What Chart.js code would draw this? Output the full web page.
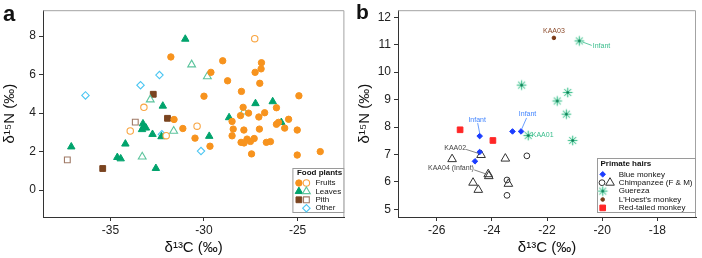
<!DOCTYPE html>
<html>
<head>
<meta charset="utf-8">
<script src="https://cdn.jsdelivr.net/npm/chart.js@4.4.0/dist/chart.umd.min.js"></script>
<style>
    html, body { margin: 0; padding: 0; background: #fff; }
    #wrap { position: relative; width: 702px; height: 258px; }
    canvas { position: absolute; top: 0; }
    #chartA { left: 0; }
    #chartB { left: 350px; }
</style>
</head>
<body>
<div id="wrap">
    <canvas id="chartA" width="350" height="258"></canvas>
    <canvas id="chartB" width="352" height="258"></canvas>
</div>
<script>
// Panel a: food plants, [d13C, d15N]
const fruitsFilled = [
    [-31.77, 6.92], [-29.0, 6.72], [-26.93, 6.62], [-26.95, 6.30], [-27.27, 6.12], [-29.63, 6.12],
    [-28.74, 5.68], [-27.02, 5.55], [-28.0, 5.13], [-30.0, 4.88], [-24.93, 4.90], [-27.91, 4.30],
    [-26.13, 4.28], [-26.76, 4.02], [-27.62, 4.00], [-28.05, 3.87], [-28.50, 3.57], [-27.07, 3.80],
    [-25.48, 3.68], [-26.13, 3.42], [-26.02, 3.52], [-31.60, 3.67], [-31.13, 3.20], [-28.44, 3.17],
    [-27.87, 3.12], [-27.04, 3.17], [-25.69, 3.22], [-25.02, 3.12], [-30.48, 2.70], [-29.68, 2.28],
    [-28.50, 2.82], [-27.70, 2.65], [-27.52, 2.53], [-27.32, 2.68], [-28.02, 2.48], [-27.86, 2.45],
    [-26.67, 2.48], [-26.45, 2.52], [-27.46, 1.88], [-25.02, 1.82], [-23.79, 2.00]
];
const fruitsOpen = [[-27.29, 7.87], [-33.21, 4.30], [-30.37, 3.32], [-33.94, 3.07], [-32.02, 2.83]];
const leavesFilled = [
    [-31.0, 7.85], [-32.2, 4.37], [-33.26, 3.45], [-33.23, 3.28], [-33.31, 3.15], [-33.1, 3.23],
    [-32.75, 2.90], [-32.27, 2.78], [-29.72, 2.80], [-34.2, 2.40], [-34.63, 1.70], [-34.45, 1.63],
    [-32.57, 1.13], [-37.09, 2.25], [-27.25, 4.50], [-26.33, 4.60], [-28.66, 3.77], [-25.87, 3.52]
];
const leavesOpen = [[-30.66, 6.52], [-29.82, 5.90], [-32.87, 4.70], [-31.62, 3.07], [-33.3, 1.73], [-27.87, 4.07]];
const pithFilled = [[-32.71, 4.98], [-31.95, 3.73], [-35.41, 1.12]];
const pithOpen = [[-33.67, 3.53], [-37.3, 1.57]];
const otherOpen = [[-36.33, 4.92], [-33.39, 5.45], [-32.38, 5.98], [-32.25, 2.90], [-30.16, 2.03]];
const aTicksX = [-35, -30, -25];
const aTicksY = [0, 2, 4, 6, 8];

// Panel b: primate hairs, [d13C, d15N]
const blueMonkey = [[-23.25, 7.84], [-22.94, 7.84], [-24.44, 7.67], [-24.44, 7.09], [-24.61, 6.75]];
const chimpCircles = [[-22.73, 6.95], [-23.45, 6.07], [-23.45, 5.51]];
const chimpTriangles = [
    [-24.39, 6.98], [-25.44, 6.83], [-23.51, 6.85], [-24.13, 6.28],
    [-24.11, 6.21], [-24.68, 5.97], [-24.49, 5.71], [-23.40, 5.93]
];
const guereza = [[-22.92, 9.53], [-20.83, 11.14], [-21.25, 9.26], [-21.63, 8.95], [-21.30, 8.47], [-22.68, 7.69], [-21.07, 7.51]];
const lhoest = [[-21.75, 11.25]];
const redTailed = [[-25.15, 7.90], [-23.96, 7.51]];
const bTicksX = [-26, -24, -22, -20, -18];
const bTicksY = [5, 6, 7, 8, 9, 10, 11, 12];

const FONT = 'Liberation Sans, Arial, Helvetica, sans-serif';
Chart.defaults.font.family = FONT;

// Guereza asterisk marker
function makeAsterisk(r) {
    const c = document.createElement('canvas');
    const s = Math.ceil(r * 2 + 4);
    c.width = s; c.height = s;
    const g = c.getContext('2d');
    const m = s / 2;
    const spokes = (color, w) => {
        g.strokeStyle = color; g.lineWidth = w; g.lineCap = 'round'; g.beginPath();
        for (let i = 0; i < 4; i++) {
            const a = i * Math.PI / 4;
            g.moveTo(m - Math.cos(a) * r, m - Math.sin(a) * r);
            g.lineTo(m + Math.cos(a) * r, m + Math.sin(a) * r);
        }
        g.stroke();
    };
    spokes('#d2f2e4', 2);
    spokes('#3cbf8d', 0.9);
    g.fillStyle = '#0b7a50';
    g.beginPath(); g.arc(m, m, 1.3, 0, Math.PI * 2); g.fill();
    return c;
}
const asterisk = makeAsterisk(4.3);

// Marker styles
const st = {
    fruitsFilled: { pointStyle: 'circle', radius: 3.2, bg: '#f7931e', border: '#f7931e', bw: 1 },
    fruitsOpen: { pointStyle: 'circle', radius: 3.2, bg: '#fff', border: '#f9a541', bw: 1.1 },
    leavesFilled: { pointStyle: 'triangle', radius: 4.3, bg: '#00a36c', border: '#00a36c', bw: 1 },
    leavesOpen: { pointStyle: 'triangle', radius: 4.5, bg: '#fff', border: '#5cc49d', bw: 1.1 },
    pithFilled: { pointStyle: 'rect', radius: 4.1, bg: '#7a4420', border: '#7a4420', bw: 1 },
    pithOpen: { pointStyle: 'rect', radius: 4.1, bg: '#fff', border: '#a07a66', bw: 1.1 },
    other: { pointStyle: 'rectRot', radius: 3.7, bg: '#fff', border: '#4cc6f2', bw: 1.1 },
    blue: { pointStyle: 'rectRot', radius: 2.8, bg: '#1b3cff', border: '#1b3cff', bw: 1 },
    chimpC: { pointStyle: 'circle', radius: 2.9, bg: 'rgba(255,255,255,0)', border: '#333', bw: 1 },
    chimpT: { pointStyle: 'triangle', radius: 5, bg: 'rgba(255,255,255,0)', border: '#333', bw: 1 },
    guereza: { pointStyle: asterisk, radius: 4.5, bg: '#2fb482', border: '#2fb482', bw: 0 },
    lhoest: { pointStyle: 'circle', radius: 1.8, bg: '#7a3a17', border: '#7a3a17', bw: 1 },
    red: { pointStyle: 'rect', radius: 4, bg: '#ff2626', border: '#ff2626', bw: 1 }
};

function dataset(points, s) {
    return {
        data: points.map(([x, y]) => ({ x, y })),
        pointStyle: s.pointStyle,
        pointRadius: s.radius,
        pointBackgroundColor: s.bg,
        pointBorderColor: s.border,
        pointBorderWidth: s.bw
    };
}

function drawMarker(ctx, s, x, y) {
    if (s.pointStyle instanceof HTMLCanvasElement) {
        ctx.drawImage(s.pointStyle, x - s.pointStyle.width / 2, y - s.pointStyle.height / 2);
        return;
    }
    ctx.save();
    ctx.fillStyle = s.bg;
    ctx.strokeStyle = s.border;
    ctx.lineWidth = s.bw;
    Chart.helpers.drawPoint(ctx, { pointStyle: s.pointStyle, radius: s.radius, rotation: 0, borderWidth: s.bw }, x, y);
    ctx.restore();
}

function makeScales(cfg) {
    const axisColor = '#333';
    const tickFont = { family: FONT, size: 12 };
    const titleFont = { family: FONT, size: 15 };
    return {
        x: {
            type: 'linear', min: cfg.xMin, max: cfg.xMax,
            afterBuildTicks: s => { s.ticks = cfg.xTicks.map(v => ({ value: v })); },
            afterFit: s => { s.height = 41; },
            grid: { display: true, drawOnChartArea: false, drawTicks: true, tickLength: 4, color: axisColor },
            border: { display: true, color: axisColor, width: 1 },
            ticks: { color: '#222', font: tickFont, padding: 2, maxRotation: 0, autoSkip: false },
            title: { display: true, text: 'δ¹³C (‰)', color: '#111', font: titleFont, padding: { top: 0, bottom: 1 } }
        },
        y: {
            type: 'linear', min: cfg.yMin, max: cfg.yMax,
            afterBuildTicks: s => { s.ticks = cfg.yTicks.map(v => ({ value: v })); },
            afterFit: s => { s.width = cfg.yWidth; },
            grid: { display: true, drawOnChartArea: false, drawTicks: true, tickLength: 4, color: axisColor },
            border: { display: true, color: axisColor, width: 1 },
            ticks: { color: '#222', font: tickFont, padding: 3, autoSkip: false },
            title: { display: true, text: 'δ¹⁵N (‰)', color: '#111', font: titleFont, padding: { top: cfg.yTitlePad, bottom: 0 } }
        }
    };
}

// Gray top/right frame and the panel letter
const framePlugin = {
    id: 'frame',
    beforeDatasetsDraw(chart, args, opts) {
        const { ctx, chartArea: a } = chart;
        ctx.save();
        ctx.strokeStyle = '#a3a3a3';
        ctx.lineWidth = 1;
        ctx.beginPath();
        ctx.moveTo(a.left, a.top + 0.5);
        ctx.lineTo(a.right - 0.5, a.top + 0.5);
        ctx.lineTo(a.right - 0.5, a.bottom);
        ctx.stroke();
        ctx.fillStyle = '#111';
        ctx.font = 'bold ' + opts.size + 'px ' + FONT;
        ctx.textBaseline = 'alphabetic';
        ctx.fillText(opts.letter, opts.lx, opts.ly);
        ctx.restore();
    }
};

// Custom legend box (two markers per row in places)
const boxLegend = {
    id: 'boxLegend',
    afterDatasetsDraw(chart, args, opts) {
        const { ctx, chartArea: a } = chart;
        const x0 = a.right - opts.w, y0 = a.bottom - opts.bottomGap - opts.h;
        ctx.save();
        ctx.fillStyle = '#fff';
        ctx.fillRect(x0, y0, opts.w, opts.h);
        ctx.strokeStyle = '#9a9a9a';
        ctx.lineWidth = 1;
        ctx.strokeRect(x0 + 0.5, y0 + 0.5, opts.w - 1, opts.h - 1);
        ctx.fillStyle = '#111';
        ctx.textBaseline = 'middle';
        ctx.font = 'bold 8px ' + FONT;
        ctx.fillText(opts.title, x0 + opts.titleX, y0 + opts.titleY);
        ctx.font = '8px ' + FONT;
        opts.rows.forEach((row, i) => {
            const y = y0 + opts.rowY + i * opts.rowStep;
            row.marks.forEach(m => drawMarker(ctx, m.s, x0 + m.x, y));
            ctx.fillStyle = '#111';
            ctx.fillText(row.label, x0 + opts.textX, y);
        });
        ctx.restore();
    }
};

// Point labels with leader lines (panel b)
const pointNotes = {
    id: 'pointNotes',
    afterDatasetsDraw(chart, args, opts) {
        if (!opts.notes) return;
        const ctx = chart.ctx;
        ctx.save();
        ctx.font = '7px ' + FONT;
        ctx.textBaseline = 'middle';
        opts.notes.forEach(n => {
            const p = chart.getDatasetMeta(n.set).data[n.idx];
            if (n.line) {
                ctx.strokeStyle = n.lineColor || n.color;
                ctx.lineWidth = 0.8;
                ctx.beginPath();
                ctx.moveTo(p.x + n.line[0], p.y + n.line[1]);
                ctx.lineTo(p.x + n.line[2], p.y + n.line[3]);
                ctx.stroke();
            }
            ctx.fillStyle = n.color;
            ctx.textAlign = n.align;
            ctx.fillText(n.text, p.x + n.dx, p.y + n.dy);
        });
        ctx.restore();
    }
};

const common = {
    responsive: false,
    animation: false,
    events: [],
    showLine: false
};

new Chart(document.getElementById('chartA'), {
    type: 'scatter',
    data: {
        datasets: [
            dataset(fruitsFilled, st.fruitsFilled),
            dataset(fruitsOpen, st.fruitsOpen),
            dataset(leavesFilled, st.leavesFilled),
            dataset(leavesOpen, st.leavesOpen),
            dataset(pithFilled, st.pithFilled),
            dataset(pithOpen, st.pithOpen),
            dataset(otherOpen, st.other)
        ]
    },
    options: {
        ...common,
        layout: { padding: { top: 2, right: 5, left: 0, bottom: 0 } },
        scales: makeScales({ xMin: -38.6, xMax: -22.5, yMin: -1.4, yMax: 9.35, xTicks: aTicksX, yTicks: aTicksY, yWidth: 43, yTitlePad: 1 }),
        plugins: {
            legend: { display: false },
            tooltip: { enabled: false },
            frame: { letter: 'a', lx: 3, ly: 21, size: 22 },
            boxLegend: {
                w: 52, h: 45, bottomGap: 4, title: 'Food plants', titleX: 4.5, titleY: 5,
                rowY: 15, rowStep: 8.4, textX: 23,
                rows: [
                    { label: 'Fruits', marks: [{ s: st.fruitsFilled, x: 6.5 }, { s: st.fruitsOpen, x: 14 }] },
                    { label: 'Leaves', marks: [{ s: st.leavesFilled, x: 6.5 }, { s: st.leavesOpen, x: 14 }] },
                    { label: 'Pith', marks: [{ s: st.pithFilled, x: 6.5 }, { s: st.pithOpen, x: 14 }] },
                    { label: 'Other', marks: [{ s: st.other, x: 14 }] }
                ]
            }
        }
    },
    plugins: [framePlugin, boxLegend]
});

new Chart(document.getElementById('chartB'), {
    type: 'scatter',
    data: {
        datasets: [
            dataset(blueMonkey, st.blue),
            dataset(chimpCircles, st.chimpC),
            dataset(chimpTriangles, st.chimpT),
            dataset(guereza, st.guereza),
            dataset(lhoest, st.lhoest),
            dataset(redTailed, st.red)
        ]
    },
    options: {
        ...common,
        layout: { padding: { top: 2, right: 2, left: 0, bottom: 0 } },
        scales: makeScales({ xMin: -27.4, xMax: -16.6, yMin: 4.72, yMax: 12.26, xTicks: bTicksX, yTicks: bTicksY, yWidth: 48, yTitlePad: 6 }),
        plugins: {
            legend: { display: false },
            tooltip: { enabled: false },
            frame: { letter: 'b', lx: 6, ly: 19, size: 21 },
            boxLegend: {
                w: 99, h: 55, bottomGap: 4, title: 'Primate hairs', titleX: 3.5, titleY: 6,
                rowY: 16.3, rowStep: 8.4, textX: 21.7,
                rows: [
                    { label: 'Blue monkey', marks: [{ s: st.blue, x: 5.7 }] },
                    { label: 'Chimpanzee (F & M)', marks: [{ s: st.chimpC, x: 5 }, { s: st.chimpT, x: 13 }] },
                    { label: 'Guereza', marks: [{ s: st.guereza, x: 5.7 }] },
                    { label: "L'Hoest's monkey", marks: [{ s: st.lhoest, x: 5.7 }] },
                    { label: 'Red-tailed monkey', marks: [{ s: st.red, x: 5.7 }] }
                ]
            },
            pointNotes: {
                notes: [
                    { set: 0, idx: 2, text: 'Infant', color: '#4285ff', align: 'center', dx: -2.5, dy: -16.5, line: [-2, -13, 0, -3] },
                    { set: 0, idx: 1, text: 'Infant', color: '#4285ff', align: 'center', dx: 6.5, dy: -17, line: [5.5, -13.5, 0.7, -2.5] },
                    { set: 3, idx: 1, text: 'Infant', color: '#37bd8b', align: 'left', dx: 13.5, dy: 5.5, line: [3, 1, 12.5, 4.5] },
                    { set: 3, idx: 5, text: 'KAA01', color: '#37bd8b', align: 'left', dx: 3.5, dy: 0 },
                    { set: 4, idx: 0, text: 'KAA03', color: '#8b4a2a', align: 'center', dx: 0, dy: -6.5 },
                    { set: 2, idx: 0, text: 'KAA02', color: '#444', lineColor: '#666', align: 'right', dx: -15, dy: -6.5, line: [-15, -5.6, -2.5, -1.6] },
                    { set: 2, idx: 3, text: 'KAA04 (Infant)', color: '#444', lineColor: '#666', align: 'right', dx: -14.3, dy: -6.3, line: [-14, -4.3, -1.5, 0] }
                ]
            }
        }
    },
    plugins: [framePlugin, boxLegend, pointNotes]
});
</script>
</body>
</html>
